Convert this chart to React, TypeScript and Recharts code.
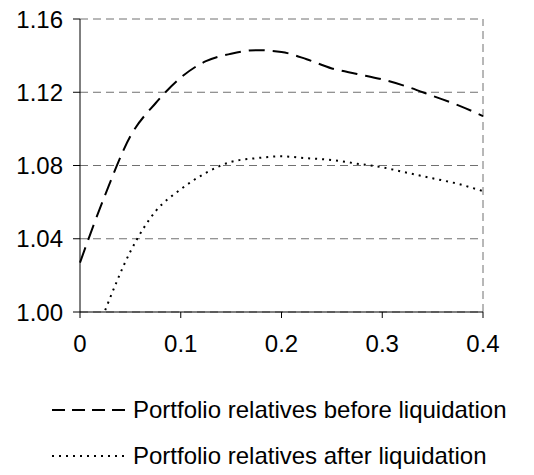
import React from 'react';
import { LineChart, Line, XAxis, YAxis, CartesianGrid, ReferenceLine, Legend } from 'recharts';

const xValues = [0, 0.025, 0.05, 0.075, 0.1, 0.125, 0.15, 0.175, 0.2, 0.225, 0.25, 0.275, 0.3, 0.325, 0.35, 0.375, 0.4];
const beforeLiquidation = [1.027, 1.064, 1.096, 1.114, 1.128, 1.137, 1.141, 1.143, 1.142, 1.138, 1.133, 1.130, 1.127, 1.123, 1.118, 1.113, 1.107];
const afterLiquidation = [null, 1.001, 1.033, 1.055, 1.067, 1.076, 1.082, 1.084, 1.085, 1.084, 1.083, 1.081, 1.079, 1.076, 1.073, 1.070, 1.066];
const xTicks = [0, 0.1, 0.2, 0.3, 0.4];
const yTicks = [1.0, 1.04, 1.08, 1.12, 1.16];

const FONT = '"Liberation Sans", Arial, sans-serif';

const data = xValues.map((x, i) => ({
  x,
  before: beforeLiquidation[i],
  after: afterLiquidation[i],
}));

const legendItems = [
  { label: 'Portfolio relatives before liquidation', dash: '13 7' },
  { label: 'Portfolio relatives after liquidation', dash: '2 5' },
];

const LegendContent = () => (
  <div style={{ fontFamily: FONT, fontSize: 24, color: '#000' }}>
    {legendItems.map((item) => (
      <div key={item.label} style={{ display: 'flex', alignItems: 'center', height: 46 }}>
        <svg width={78} height={10} style={{ marginRight: 3 }}>
          <line x1={0} y1={5} x2={74} y2={5} stroke="#000" strokeWidth={2} strokeDasharray={item.dash} />
        </svg>
        <span>{item.label}</span>
      </div>
    ))}
  </div>
);

const App: React.FC = () => {
  return (
    <div style={{ position: 'absolute', left: 0, top: 0, background: '#fff' }}>
      <LineChart width={534} height={475} data={data} margin={{ top: 19, right: 51, left: 0, bottom: 133 }}>
        <CartesianGrid stroke="#707070" strokeDasharray="8 5" vertical={false} />
        <XAxis
          dataKey="x"
          type="number"
          domain={[0, 0.4]}
          ticks={xTicks}
          height={30}
          stroke="#000"
          tick={{ fill: '#000', fontSize: 24, fontFamily: FONT }}
          tickSize={6}
          tickMargin={17}
        />
        <YAxis
          type="number"
          domain={[1.0, 1.16]}
          ticks={yTicks}
          width={80}
          allowDataOverflow
          stroke="#000"
          tick={{ fill: '#000', fontSize: 24, fontFamily: FONT }}
          tickFormatter={(v: number) => v.toFixed(2)}
          tickSize={7}
          tickMargin={10}
        />
        <ReferenceLine x={0.4} stroke="#707070" strokeDasharray="8 5" />
        <Line
          type="monotone"
          dataKey="before"
          stroke="#000"
          strokeWidth={2}
          strokeDasharray="16 8"
          dot={false}
          isAnimationActive={false}
        />
        <Line
          type="monotone"
          dataKey="after"
          stroke="#000"
          strokeWidth={2}
          strokeDasharray="2 5"
          dot={false}
          connectNulls={false}
          isAnimationActive={false}
        />
        <Legend
          layout="vertical"
          align="center"
          verticalAlign="middle"
          content={<LegendContent />}
          wrapperStyle={{ position: 'absolute', top: 387, left: 52, width: 482 }}
        />
      </LineChart>
    </div>
  );
};

export default App;
